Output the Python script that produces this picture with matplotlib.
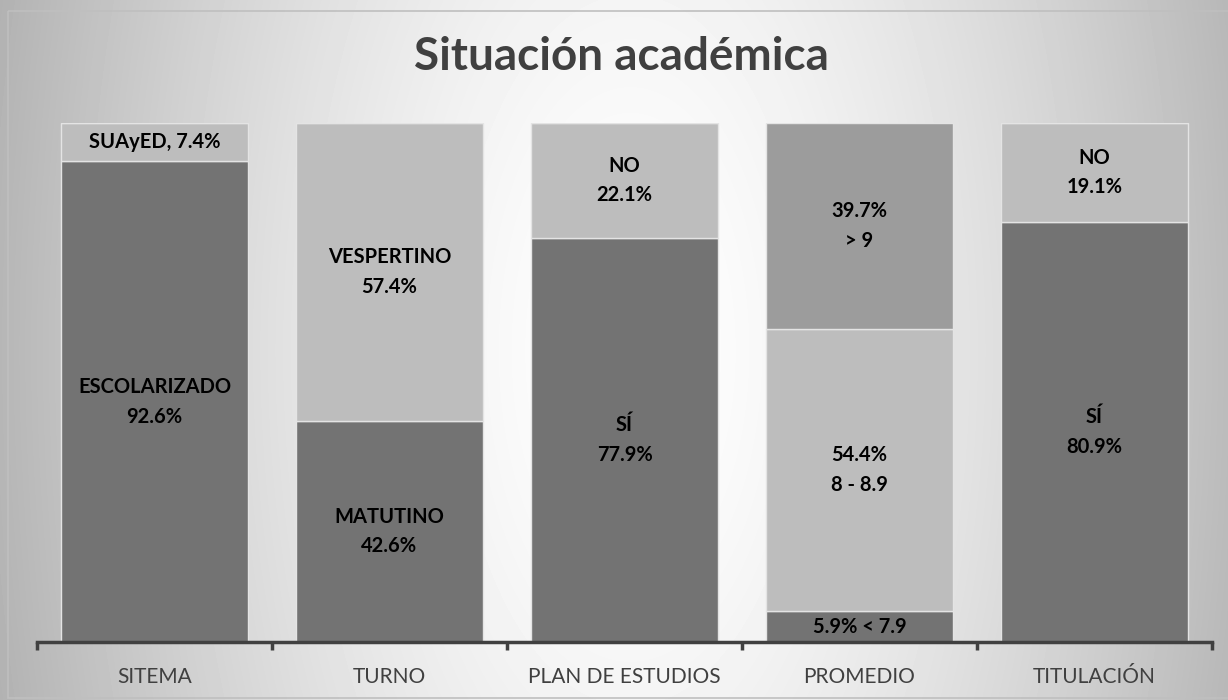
import matplotlib
matplotlib.use("Agg")
import matplotlib.pyplot as plt
import numpy as np
from matplotlib.patches import Rectangle

# data ----------------------------------------------------------------
categories = ["SITEMA", "TURNO", "PLAN DE ESTUDIOS", "PROMEDIO", "TITULACIÓN"]
bottom_vals = [92.6, 42.6, 77.9, 5.9, 80.9]
middle_vals = [7.4, 57.4, 22.1, 54.4, 19.1]
top_vals = [0.0, 0.0, 0.0, 39.7, 0.0]
bottom_labels = ["ESCOLARIZADO\n92.6%", "MATUTINO\n42.6%", "SÍ\n77.9%", "5.9% < 7.9", "SÍ\n80.9%"]
middle_labels = ["SUAyED, 7.4%", "VESPERTINO\n57.4%", "NO\n22.1%", "54.4%\n8 - 8.9", "NO\n19.1%"]
top_labels = ["", "", "", "39.7%\n> 9", ""]

dark = "#737373"
light = "#bdbdbd"
medium = "#9c9c9c"
edge = "#e4e4e4"
txt = "#404040"

plt.rcParams["font.family"] = ["Lato", "DejaVu Sans"]

fig = plt.figure(figsize=(12.28, 7), dpi=100)

# background gradient -----------------------------------------------
bg = fig.add_axes([0, 0, 1, 1], zorder=-2)
yy, xx = np.mgrid[0:700, 0:1228]
d = np.sqrt(((xx - 630) / 650.0) ** 2 + ((yy - 350) / 1300.0) ** 2)
shade = np.clip(1.0 - 0.3 * d ** 1.5, 0, 1)
bg.imshow(shade, cmap="gray", vmin=0, vmax=1, aspect="auto",
          extent=[0, 1228, 700, 0], interpolation="bilinear")
bg.add_patch(Rectangle((8, 11), 1230, 687, fill=False, edgecolor="#bfbfbf", lw=1.2))
bg.set_xlim(0, 1228)
bg.set_ylim(700, 0)
bg.axis("off")

ax = fig.add_axes([37 / 1228, 1 - 642 / 700, (1212 - 37) / 1228, (642 - 123) / 700])
ax.patch.set_alpha(0)

x = np.arange(len(categories))
w = 0.795
ax.bar(x, bottom_vals, w, color=dark, edgecolor=edge, linewidth=1)
ax.bar(x, middle_vals, w, bottom=bottom_vals, color=light, edgecolor=edge, linewidth=1)
base3 = np.array(bottom_vals) + np.array(middle_vals)
ax.bar(x, top_vals, w, bottom=base3, color=medium, edgecolor=edge, linewidth=1)

lab_kw = dict(ha="center", va="center", fontsize=14.5, fontweight="bold",
              color="black", linespacing=1.6)
for i in range(len(categories)):
    ax.text(x[i], bottom_vals[i] / 2, bottom_labels[i], **lab_kw)
    ax.text(x[i], bottom_vals[i] + middle_vals[i] / 2, middle_labels[i], **lab_kw)
    if top_vals[i] > 0:
        ax.text(x[i], base3[i] + top_vals[i] / 2, top_labels[i], **lab_kw)

ax.set_xlim(-0.5, len(categories) - 0.5)
ax.set_ylim(0, 100)
ax.set_yticks([])
ax.set_xticks(x)
ax.set_xticklabels(categories, fontsize=15, color=txt)
ax.tick_params(axis="x", which="major", length=0, pad=18)
ax.set_xticks(np.arange(-0.5, len(categories), 1.0), minor=True)
ax.tick_params(axis="x", which="minor", length=6, width=2.5, color=txt, direction="out")
for s in ["top", "right", "left"]:
    ax.spines[s].set_visible(False)
ax.spines["bottom"].set_color(txt)
ax.spines["bottom"].set_linewidth(2.5)

fig.text(0.506, 0.918, "Situación académica", ha="center", va="center",
         fontsize=33, fontweight="bold", color=txt)

fig.savefig("out.png", dpi=100)
